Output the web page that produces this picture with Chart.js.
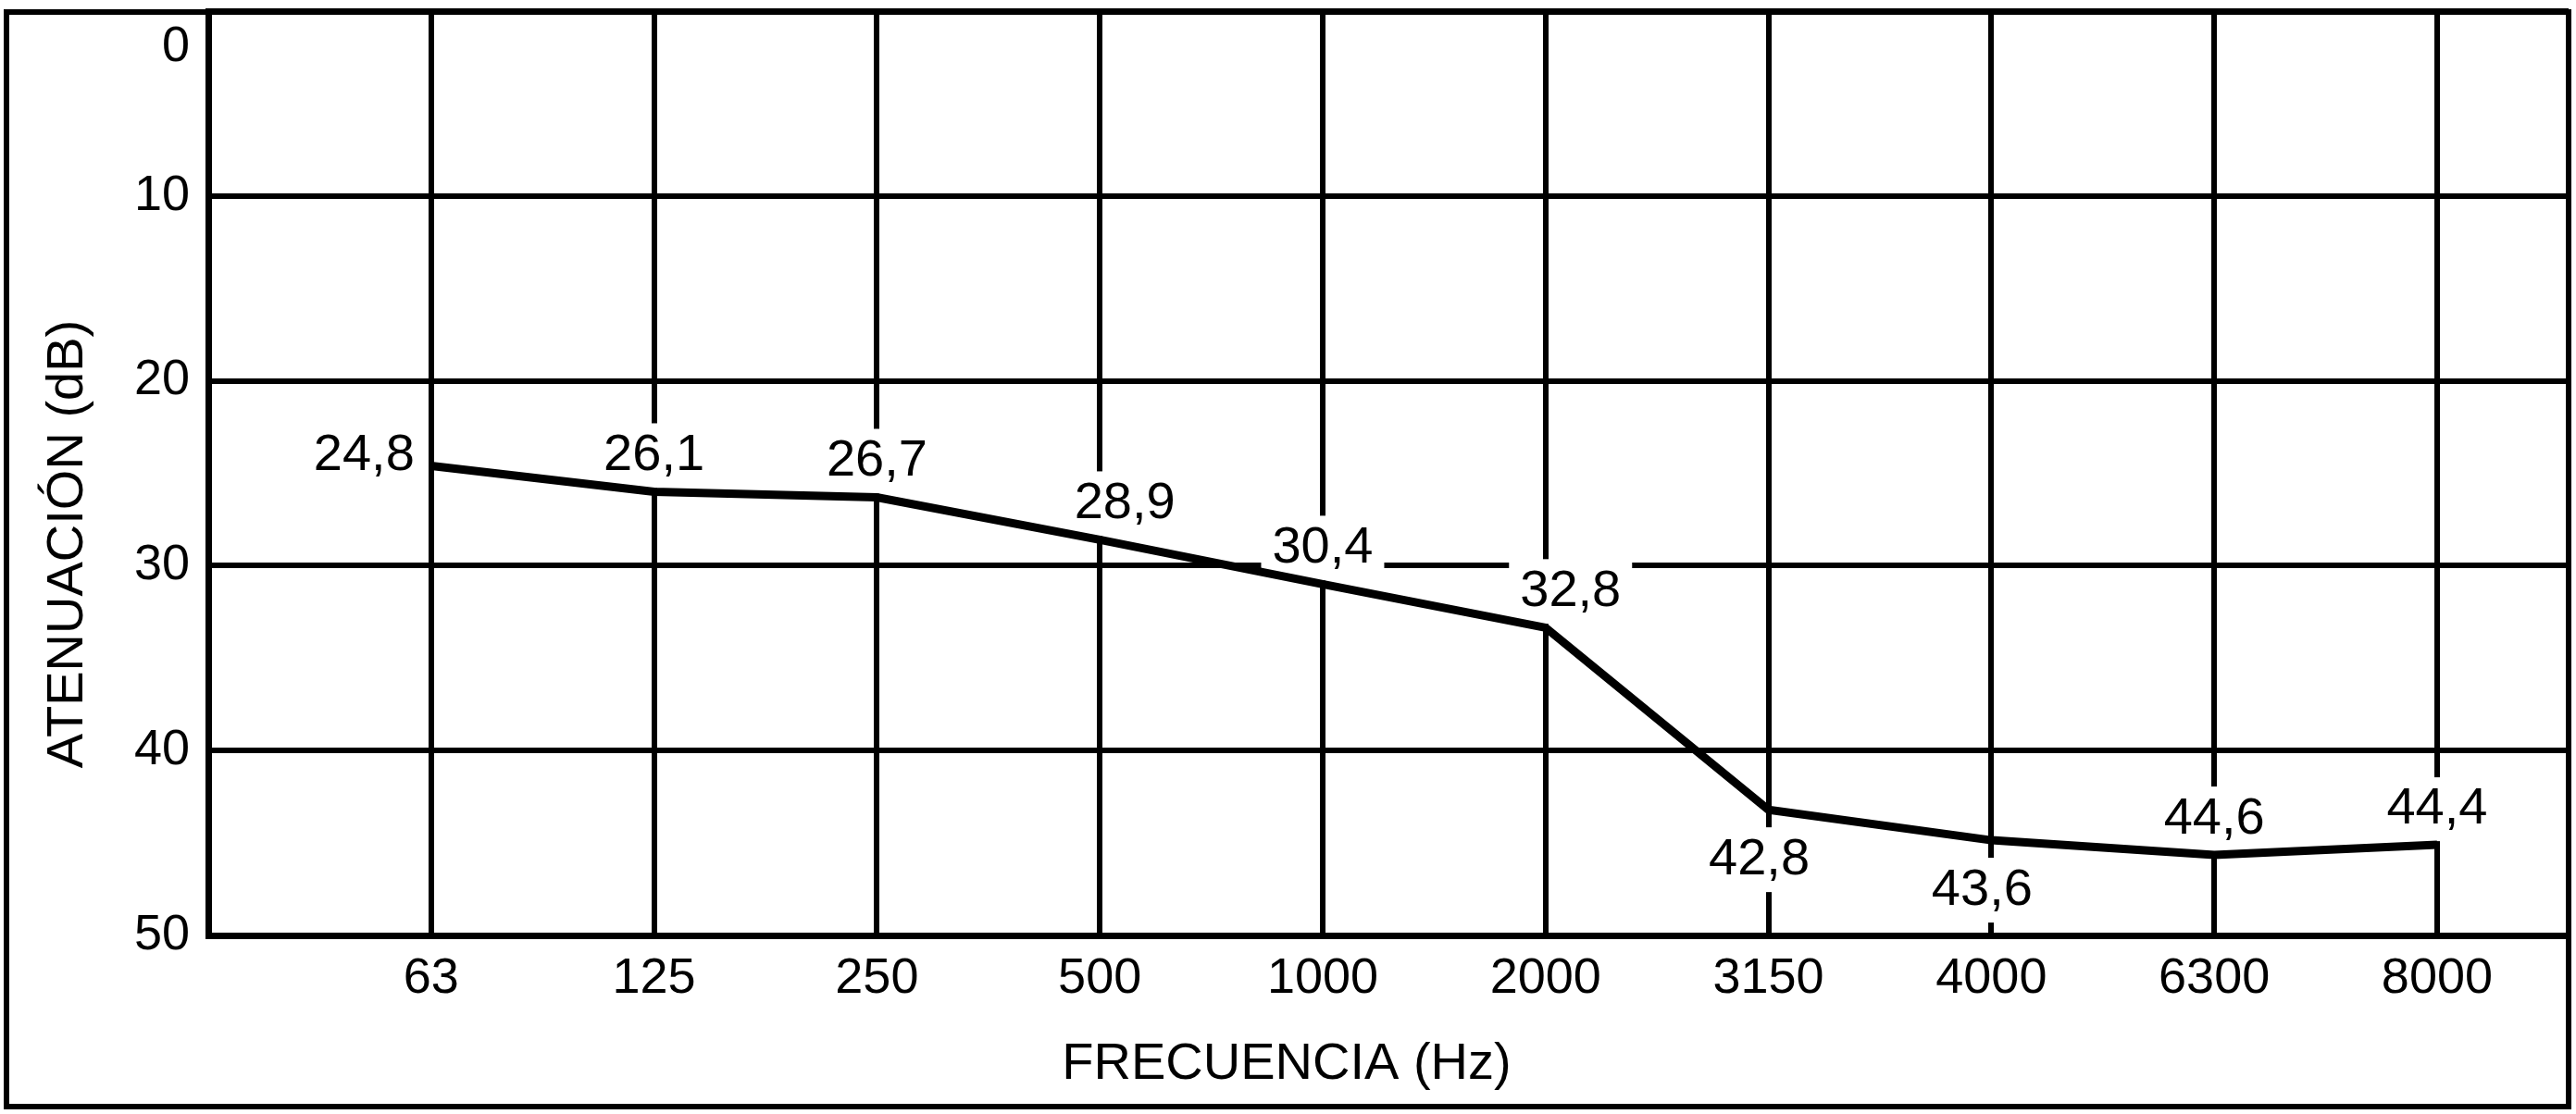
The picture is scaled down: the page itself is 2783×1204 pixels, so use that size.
<!DOCTYPE html>
<html>
<head>
<meta charset="utf-8">
<script src="https://cdn.jsdelivr.net/npm/chart.js@4.4.1/dist/chart.umd.min.js"></script>
<style>
  html, body { margin: 0; padding: 0; background: #ffffff; }
  #wrap { width: 2783px; height: 1204px; position: relative; }
  canvas { display: block; }
</style>
</head>
<body>
<div id="wrap"><canvas id="chart" width="2783" height="1204" style="width:2783px;height:1204px"></canvas></div>
<script>
// ---- data ----
const frequencies = ['63', '125', '250', '500', '1000', '2000', '3150', '4000', '6300', '8000'];
const attenuation = [24.6, 26.0, 26.3, 28.6, 31.0, 33.35, 43.2, 44.85, 45.65, 45.1];
const valueLabels = ['24,8', '26,1', '26,7', '28,9', '30,4', '32,8', '42,8', '43,6', '44,6', '44,4'];
const yTicks = [0, 10, 20, 30, 40, 50];
const labelPlacement = ['left', 'above', 'above', 'aboveRight', 'above', 'aboveRight', 'below', 'below', 'above', 'above'];
const xTitle = 'FRECUENCIA (Hz)';
const yTitle = 'ATENUACIÓN (dB)';

const FONT = '"Liberation Sans", Arial, Helvetica, sans-serif';

const annotate = {
  id: 'annotate',
  beforeDatasetsDraw(chart) {
    const ctx = chart.ctx, xs = chart.scales.x, ys = chart.scales.y;
    ctx.save();
    ctx.font = '56px ' + FONT;
    ctx.textBaseline = 'alphabetic';
    ctx.textAlign = 'center';
    valueLabels.forEach((t, i) => {
      const px = xs.getPixelForValue(i + 1);
      const py = ys.getPixelForValue(attenuation[i]);
      const m = ctx.measureText(t);
      const w = m.width, asc = m.actualBoundingBoxAscent, desc = m.actualBoundingBoxDescent;
      let cx = px, by = py - 23;
      switch (labelPlacement[i]) {
        case 'left': cx = px - 18 - w / 2; by = py + 4; break;
        case 'aboveRight': cx = px + 27; by = py - 23; break;
        case 'below': cx = px - 10; by = py + 70; break;
        default: cx = px; by = py - 23;
      }
      ctx.fillStyle = '#ffffff';
      ctx.fillRect(cx - w / 2 - 12, by - asc - 12, w + 24, asc + desc + 24);
      ctx.fillStyle = '#000000';
      ctx.fillText(t, cx, by);
    });
    ctx.restore();
  },
  afterDraw(chart) {
    const ctx = chart.ctx;
    ctx.save();
    ctx.fillStyle = '#000000';
    ctx.font = '56px ' + FONT;
    ctx.textAlign = 'center';
    ctx.textBaseline = 'alphabetic';
    ctx.fillText(xTitle, 1390, 1166);
    ctx.translate(89, 588);
    ctx.rotate(-Math.PI / 2);
    ctx.fillText(yTitle, 0, 0);
    ctx.restore();
    ctx.save();
    ctx.strokeStyle = '#000000';
    ctx.lineWidth = 6;
    ctx.strokeRect(7, 13, 2775 - 7, 1196 - 13);
    ctx.restore();
  }
};

new Chart(document.getElementById('chart'), {
  type: 'line',
  data: {
    datasets: [{
      data: attenuation.map((v, i) => ({ x: i + 1, y: v })),
      borderColor: '#000000',
      borderWidth: 9,
      pointRadius: 0,
      pointHoverRadius: 0,
      tension: 0,
      fill: false,
      borderJoinStyle: 'miter',
      borderCapStyle: 'butt'
    }]
  },
  options: {
    responsive: false,
    devicePixelRatio: 1,
    animation: false,
    events: [],
    layout: { padding: { top: 12, right: 8, left: 0, bottom: 0 } },
    plugins: { legend: { display: false }, tooltip: { enabled: false }, title: { display: false } },
    scales: {
      x: {
        type: 'linear',
        min: 0,
        max: 10.59,
        afterBuildTicks: (s) => { s.ticks = [{ value: 0 }].concat(frequencies.map((f, i) => ({ value: i + 1 }))); },
        afterFit: (s) => { s.height = 193; s.paddingLeft = 0; s.paddingRight = 0; },
        ticks: {
          autoSkip: false,
          maxRotation: 0,
          minRotation: 0,
          padding: 15,
          color: '#000000',
          font: { family: FONT, size: 54 },
          callback: (v) => (v >= 1 ? frequencies[Math.round(v) - 1] : '')
        },
        grid: { color: '#000000', lineWidth: 6, drawTicks: false },
        border: { display: true, color: '#000000', width: 7 },
        title: { display: false }
      },
      y: {
        type: 'linear',
        reverse: true,
        min: 0,
        max: 50,
        afterBuildTicks: (s) => { s.ticks = yTicks.map(v => ({ value: v })); },
        afterFit: (s) => { s.width = 225; s.paddingTop = 0; s.paddingBottom = 0; },
        ticks: {
          padding: 20,
          color: '#000000',
          font: { family: FONT, size: 54, lineHeight: 1.44 },
          callback: (v) => (v === 0 ? ['', '0'] : String(v))
        },
        grid: { color: '#000000', lineWidth: 6, drawTicks: false },
        border: { display: true, color: '#000000', width: 7 },
        title: { display: false }
      }
    }
  },
  plugins: [annotate]
});
</script>
</body>
</html>
